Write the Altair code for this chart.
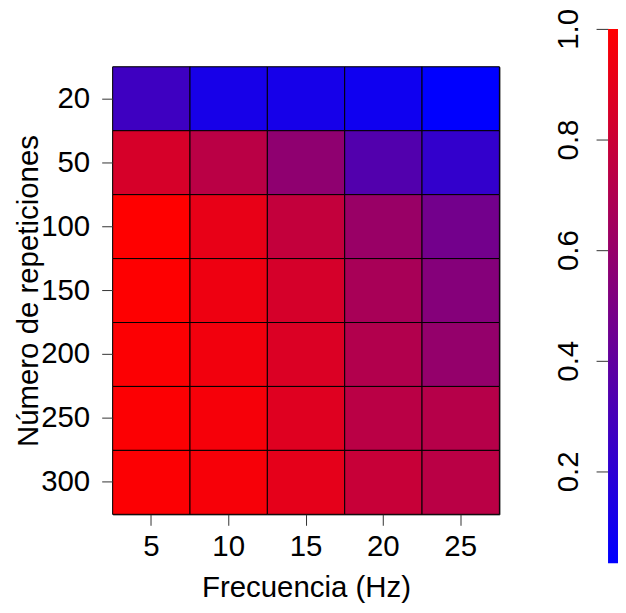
import altair as alt
import pandas as pd

freqs = ["5", "10", "15", "20", "25"]
reps = ["20", "50", "100", "150", "200", "250", "300"]
values = [
    [0.270, 0.120, 0.116, 0.092, 0.034],
    [0.845, 0.740, 0.575, 0.343, 0.227],
    [1.000, 0.913, 0.773, 0.614, 0.469],
    [0.995, 0.937, 0.841, 0.672, 0.536],
    [0.990, 0.952, 0.865, 0.710, 0.594],
    [0.990, 0.966, 0.879, 0.739, 0.722],
    [0.990, 0.971, 0.903, 0.787, 0.739],
]
legend_ticks = [0.2, 0.4, 0.6, 0.8, 1.0]

vmin = min(min(r) for r in values)
vmax = max(max(r) for r in values)

rows = []
for i, r in enumerate(reps):
    for j, f in enumerate(freqs):
        rows.append({"freq": f, "rep": r, "val": values[i][j]})
df = pd.DataFrame(rows)

FONT = "Liberation Sans"
FS = 29.5

heat = alt.Chart(df).mark_rect(stroke="black", strokeWidth=1).encode(
    x=alt.X("freq:N", sort=freqs, scale=alt.Scale(paddingInner=0, paddingOuter=0),
            axis=alt.Axis(title="Frecuencia (Hz)", labelAngle=0, domain=False, grid=False,
                          tickSize=11, tickColor="#333333", labelPadding=7,
                          labelFontSize=FS, labelFont=FONT, labelColor="black",
                          titleFontSize=FS, titleFont=FONT, titleFontWeight="normal",
                          titleColor="black", titleBaseline="top", titleY=59)),
    y=alt.Y("rep:N", sort=reps, scale=alt.Scale(paddingInner=0, paddingOuter=0),
            axis=alt.Axis(title="Número de repeticiones", domain=False, grid=False,
                          tickSize=11, tickColor="#333333", labelPadding=12,
                          labelFontSize=FS, labelFont=FONT, labelColor="black",
                          titleFontSize=FS, titleFont=FONT, titleFontWeight="normal",
                          titleColor="black", titleBaseline="alphabetic", titleX=-75)),
    color=alt.Color("val:Q", scale=alt.Scale(domain=[vmin, vmax], range=["#0000ff", "#ff0000"],
                                             interpolate="rgb"), legend=None),
).properties(
    width=388, height=449,
    view=alt.ViewBackground(stroke="black", strokeWidth=1),
)

legend_df = pd.DataFrame({"lo": [vmin], "hi": [vmax]})

spacer = alt.Chart(legend_df).mark_rect(opacity=0).encode(
    x=alt.value(0), y=alt.value(0)
).properties(width=388, height=37, view=alt.ViewBackground(stroke=None))

left = alt.vconcat(spacer, heat, spacing=0)

grad = alt.LinearGradient(
    gradient="linear",
    stops=[alt.GradientStop(color="#0000ff", offset=0), alt.GradientStop(color="#ff0000", offset=1)],
    x1=0, x2=0, y1=1, y2=0,
)
leg = alt.Chart(legend_df).mark_rect(fill=grad).encode(
    y=alt.Y("lo:Q", scale=alt.Scale(domain=[vmin, vmax], nice=False, zero=False),
            axis=alt.Axis(title=None, values=legend_ticks, format=".1f", labelAngle=270,
                          labelAlign="center", labelBaseline="alphabetic", labelPadding=19,
                          tickSize=12, tickColor="#333333", domain=False, grid=False,
                          labelFontSize=FS, labelFont=FONT, labelColor="black",
                          labelFlush=False, labelOverlap=False)),
    y2="hi:Q",
).properties(width=10, height=536, view=alt.ViewBackground(stroke=None))

chart = alt.hconcat(left, leg, spacing=53).properties(
    padding={"left": 5, "top": -1, "right": 0, "bottom": 0},
    background="white",
)

chart.save("out.html", embed_options={"renderer": "svg", "actions": False})
